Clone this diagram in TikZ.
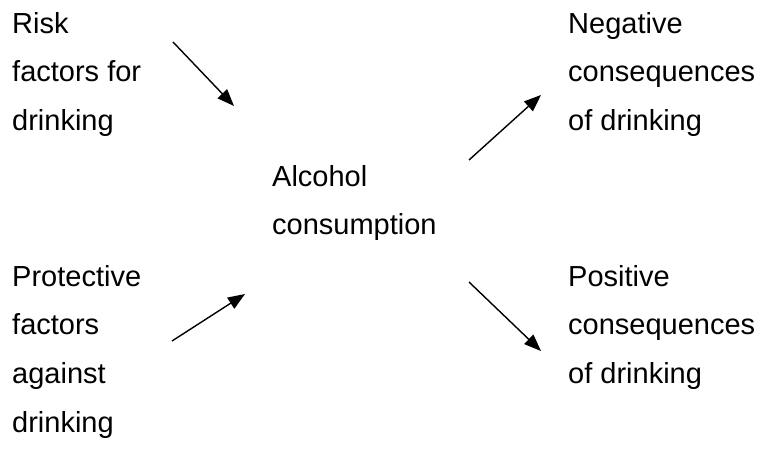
\documentclass[tikz,border=0pt]{standalone}
\usepackage{fontspec}
\setmainfont{Liberation Sans}
\usetikzlibrary{arrows.meta}
\begin{document}
\begin{tikzpicture}[x=1pt, y=-1pt, >={Triangle[length=17pt,width=13pt]},
		lbl/.style={anchor=north west, align=left, inner sep=0pt,
			font=\fontsize{29}{48.6}\selectfont}]
		\useasboundingbox (0, 0) rectangle (766, 450);
		\node[lbl] (risk) at (12, 12) {Risk\\factors for\\drinking};
		\node[lbl] (prot) at (12, 265) {Protective\\factors\\against\\drinking};
		\node[lbl] (alc) at (272, 165) {Alcohol\\consumption};
		\node[lbl] (neg) at (568, 12) {Negative\\consequences\\of drinking};
		\node[lbl] (pos) at (568, 265) {Positive\\consequences\\of drinking};
		\coordinate (r1) at (173, 42);   \coordinate (r2) at (234, 106);
		\coordinate (p1) at (172, 341);  \coordinate (p2) at (245, 294);
		\coordinate (n1) at (469, 160);  \coordinate (n2) at (541, 95);
		\coordinate (q1) at (469, 282);  \coordinate (q2) at (541, 351);
		\draw[->, line width=1.4pt] (r1) -- (r2);
		\draw[->, line width=1.4pt] (p1) -- (p2);
		\draw[->, line width=1.4pt] (n1) -- (n2);
		\draw[->, line width=1.4pt] (q1) -- (q2);
\end{tikzpicture}
\end{document}
